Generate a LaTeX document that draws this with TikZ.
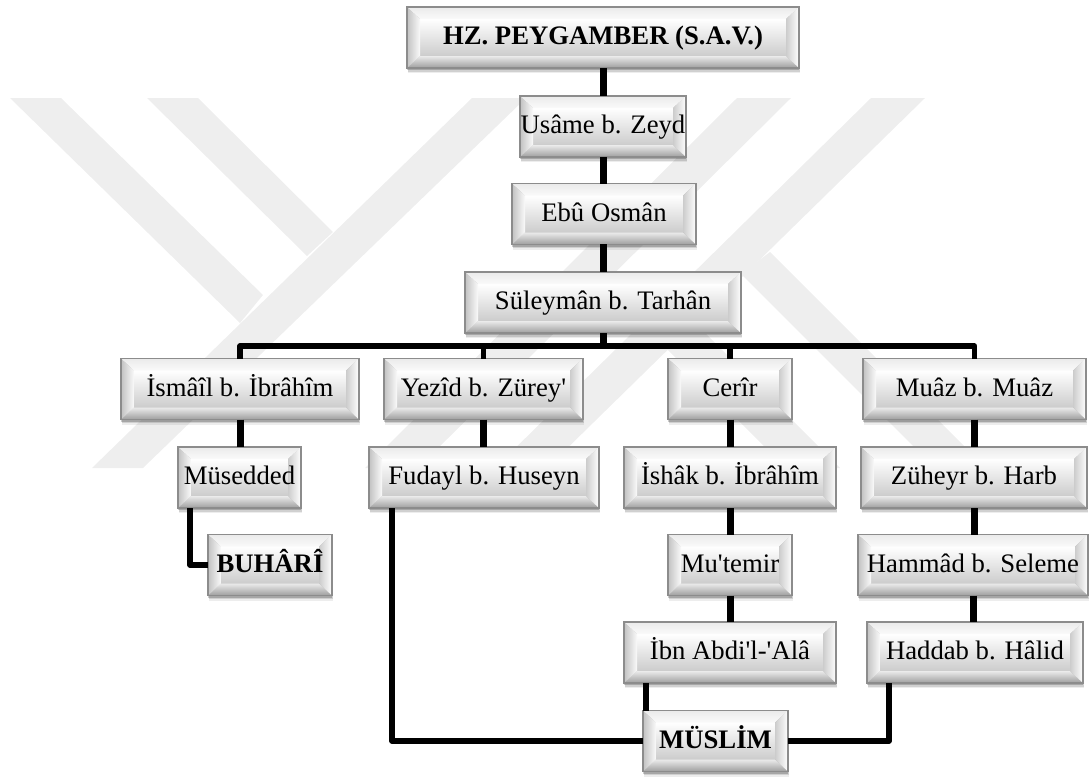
\documentclass[tikz,border=0pt]{standalone}
\usepackage{fontspec}
\setmainfont{Liberation Serif}
\usetikzlibrary{shadows,calc}
\definecolor{markgray}{HTML}{EEEEEE}
\definecolor{edgegray}{HTML}{8C8C8C}
\tikzset{
  boxw/.style={minimum width=#1*.02cm},
  mark band/.style={fill=markgray,draw=none},
  bevelbox/.style={rectangle,draw=edgegray,line width=.8pt,inner sep=0pt,outer sep=0pt,
    minimum height=1.22cm,text height=12pt,text depth=3.6pt,font=\fontsize{15.2}{18}\selectfont,
    drop shadow={shadow xshift=.5pt,shadow yshift=-3pt,fill=black,opacity=.07},
    drop shadow={shadow xshift=.4pt,shadow yshift=-2.2pt,fill=black,opacity=.12},
    drop shadow={shadow xshift=.2pt,shadow yshift=-1.2pt,fill=black,opacity=.2},
    path picture={
      \coordinate (nw) at (path picture bounding box.north west);
      \coordinate (ne) at (path picture bounding box.north east);
      \coordinate (sw) at (path picture bounding box.south west);
      \coordinate (se) at (path picture bounding box.south east);
      \coordinate (inw) at ($(nw)+(.26cm,-.24cm)$);
      \coordinate (ine) at ($(ne)+(-.26cm,-.24cm)$);
      \coordinate (isw) at ($(sw)+(.26cm,.24cm)$);
      \coordinate (ise) at ($(se)+(-.26cm,.24cm)$);
      \shade[top color=white,bottom color=black!20] (inw) rectangle (ise);
      \shade[top color=black!8,bottom color=black!2] (nw)--(ne)--(ine)--(inw)--cycle;
      \shade[top color=black!8,bottom color=black!38] (sw)--(se)--(ise)--(isw)--cycle;
      \shade[left color=black!24,right color=black!2] (nw)--(inw)--(isw)--(sw)--cycle;
      \shade[left color=black!20,right color=white] (ne)--(ine)--(ise)--(se)--cycle;
    }},
  bolder/.style={font=\fontsize{15.2}{18}\selectfont\bfseries},
  conn/.style={line width=.14cm,draw=black},
  elbow/.style={line width=.11cm,draw=black,line join=round}
}
\begin{document}
\begin{tikzpicture}[x=.02cm,y=-.02cm]
  \useasboundingbox (0,0) rectangle (1089,778);
  % background mark
  \fill[mark band] (10,98) -- (61,98) -- (263,295) -- (240,323) -- cycle;
  \fill[mark band] (147,98) -- (198,98) -- (333,232) -- (307,256) -- cycle;
  \fill[mark band] (92,468) -- (143,468) -- (526,98) -- (472,98) -- cycle;
  \fill[mark band] (365,468) -- (418,468) -- (791,98) -- (737,98) -- cycle;
  \fill[mark band] (495,468) -- (547,468) -- (925,98) -- (871,98) -- cycle;
  \fill[mark band] (770,252) -- (986,468) -- (935,468) -- (741,274) -- cycle;
  \fill[mark band] (693,321) -- (840,468) -- (786,468) -- (662,344) -- cycle;

  % boxes
  \node[bevelbox,boxw=392,bolder] (peygamber) at (603,37.5) {HZ. PEYGAMBER (S.A.V.)};
  \node[bevelbox,boxw=166] (usame) at (603,126.5) {Usâme b. Zeyd};
  \node[bevelbox,boxw=184] (ebu) at (604,214) {Ebû Osmân};
  \node[bevelbox,boxw=276] (suleyman) at (603,302.5) {Süleymân b. Tarhân};
  \node[bevelbox,boxw=238] (ismail) at (240,389) {İsmâîl b. İbrâhîm};
  \node[bevelbox,boxw=199] (yezid) at (483.5,389) {Yezîd b. Zürey\textquotesingle};
  \node[bevelbox,boxw=124] (cerir) at (730,389) {Cerîr};
  \node[bevelbox,boxw=223] (muaz) at (974.5,389) {Muâz b. Muâz};
  \node[bevelbox,boxw=123] (musedded) at (239.5,477.5) {Müsedded};
  \node[bevelbox,boxw=230] (fudayl) at (484,477.5) {Fudayl b. Huseyn};
  \node[bevelbox,boxw=212] (ishak) at (730,477.5) {İshâk b. İbrâhîm};
  \node[bevelbox,boxw=226] (zuheyr) at (974,477.5) {Züheyr b. Harb};
  \node[bevelbox,boxw=124,bolder] (buhari) at (270,565) {BUHÂRÎ};
  \node[bevelbox,boxw=124] (mutemir) at (730,565) {Mu\textquotesingle temir};
  \node[bevelbox,boxw=230] (hammad) at (973,565) {Hammâd b. Seleme};
  \node[bevelbox,boxw=212] (ibn) at (730,652.5) {İbn Abdi\textquotesingle l-\textquotesingle Alâ};
  \node[bevelbox,boxw=216] (haddab) at (975,652.5) {Haddab b. Hâlid};
  \node[bevelbox,boxw=145,bolder] (muslim) at (715.5,741) {MÜSLİM};

  % straight links
  \draw[conn] (peygamber) -- (usame);
  \draw[conn] (usame) -- (ebu.north -| usame);
  \draw[conn] (ebu.south -| usame) -- (suleyman.north);
  \draw[conn] (ismail) -- (musedded.north -| ismail);
  \draw[conn] (yezid) -- (yezid |- fudayl.north);
  \draw[conn] (cerir) -- (ishak);
  \draw[conn] (ishak) -- (mutemir);
  \draw[conn] (mutemir) -- (ibn);
  \draw[conn] (muaz.south) -- (muaz.south |- zuheyr.north);
  \draw[conn] (zuheyr.south) -- (zuheyr.south |- hammad.north);
  \draw[conn] (hammad.south) -- (hammad.south |- haddab.north);

  % bus under the fourth row
  \coordinate (bus) at (603,346);
  \draw[conn] (suleyman.south) -- (bus);
  \draw[elbow] (ismail.north) |- (bus);
  \draw[elbow] (muaz.north) |- (bus);
  \draw[elbow] (yezid.north) |- (bus);
  \draw[elbow] (cerir.north) |- (bus);

  % elbows
  \draw[elbow] ([xshift=.24cm]musedded.south west) |- (buhari.west);
  \draw[elbow] ([xshift=.46cm]fudayl.south west) |- (muslim.west);
  \draw[elbow] (muslim.east) -| ([xshift=.44cm]haddab.south west);
  \draw[elbow] ([xshift=.44cm]ibn.south west) coordinate (ibnfoot) -- (ibnfoot |- muslim.north);
\end{tikzpicture}
\end{document}
